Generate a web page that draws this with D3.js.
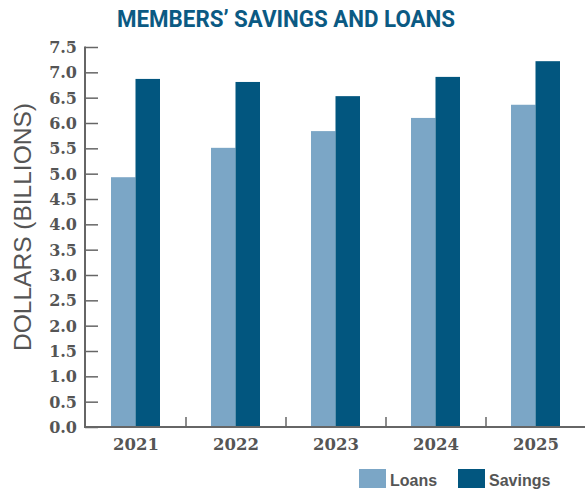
<!DOCTYPE html>
<html><head><meta charset="utf-8">
<script src="https://cdn.jsdelivr.net/npm/d3@7"></script>
<style>body{margin:0;background:#fff}svg{display:block}</style>
</head><body>
<svg id="c" width="585" height="491"></svg>
<script>
const years = ["2021","2022","2023","2024","2025"];
const loans = [4.93, 5.51, 5.84, 6.10, 6.36];
const savings = [6.87, 6.81, 6.53, 6.91, 7.22];
const seriesNames = ["Loans","Savings"];
const seriesColors = ["#7BA6C6","#02567F"];
const yTicks = [0,0.5,1,1.5,2,2.5,3,3.5,4,4.5,5,5.5,6,6.5,7,7.5];

const svg = d3.select("#c");
const axisColor = "#666";
const y = d3.scaleLinear().domain([0,7.5]).range([427,47]);
const x = d3.scaleBand().domain(years).range([86,586]);
const x1 = d3.scaleBand().domain(seriesNames).range([25,74]);
const color = d3.scaleOrdinal().domain(seriesNames).range(seriesColors);

// title
svg.append("text").attr("x",286).attr("y",27).attr("text-anchor","middle")
  .attr("font-family","Roboto, 'Liberation Sans', sans-serif").attr("font-weight","bold")
  .attr("font-size",24).attr("fill","#0B5A83")
  .attr("textLength",338).attr("lengthAdjust","spacingAndGlyphs")
  .text("MEMBERS’ SAVINGS AND LOANS");

// bars
const data = years.map((yr,i)=>({yr, vals:[{k:"Loans",v:loans[i]},{k:"Savings",v:savings[i]}]}));
const g = svg.append("g");
g.selectAll("g.yr").data(data).join("g").attr("class","yr")
  .attr("transform",d=>`translate(${x(d.yr)},0)`)
  .selectAll("rect").data(d=>d.vals).join("rect")
  .attr("x",d=>x1(d.k)).attr("width",x1.bandwidth())
  .attr("y",d=>y(d.v)).attr("height",d=>y(0)-y(d.v))
  .attr("fill",d=>color(d.k));

// y axis
const yAxis = d3.axisRight(y).tickValues(yTicks).tickSize(13).tickFormat("");
const ya = svg.append("g").attr("transform","translate(85,0)").call(yAxis);
ya.select(".domain").remove();
ya.selectAll(".tick line").attr("stroke",axisColor).attr("stroke-width",1.5);
svg.append("line").attr("x1",85).attr("x2",85).attr("y1",y(7.5)-0.5).attr("y2",y(0)+1)
  .attr("stroke",axisColor).attr("stroke-width",2);
svg.append("g").selectAll("text").data(yTicks).join("text")
  .attr("x",77).attr("y",d=>y(d)+6).attr("text-anchor","end")
  .attr("font-family","'DejaVu Serif', serif").attr("font-weight","bold").attr("font-size",16)
  .attr("fill","#555").text(d=>d.toFixed(1));

// x axis
svg.append("line").attr("x1",84).attr("x2",585).attr("y1",y(0)).attr("y2",y(0))
  .attr("stroke",axisColor).attr("stroke-width",2);
svg.append("g").selectAll("line").data(years.slice(1)).join("line")
  .attr("x1",d=>x(d)).attr("x2",d=>x(d)).attr("y1",y(0)-10).attr("y2",y(0))
  .attr("stroke",axisColor).attr("stroke-width",1.5);
svg.append("g").selectAll("text").data(years).join("text")
  .attr("x",d=>x(d)+x.bandwidth()/2).attr("y",450).attr("text-anchor","middle")
  .attr("font-family","'DejaVu Serif', serif").attr("font-weight","bold").attr("font-size",16.5)
  .attr("fill","#555").text(d=>d);

// y title
svg.append("text").attr("transform","translate(31,227) rotate(-90)").attr("text-anchor","middle")
  .attr("font-family","'Liberation Sans', Arial, sans-serif").attr("font-size",24.5)
  .attr("fill","#555").text("DOLLARS (BILLIONS)");

// legend
const legX = [359, 458];
const lg = svg.append("g").selectAll("g").data(seriesNames).join("g")
  .attr("transform",(d,i)=>`translate(${legX[i]},469)`);
lg.append("rect").attr("width",27).attr("height",19).attr("fill",d=>color(d));
lg.append("text").attr("x",31).attr("y",17)
  .attr("font-family","'Liberation Sans', Arial, sans-serif").attr("font-weight","bold").attr("font-size",16)
  .attr("fill","#555").text(d=>d);
</script>
</body></html>
